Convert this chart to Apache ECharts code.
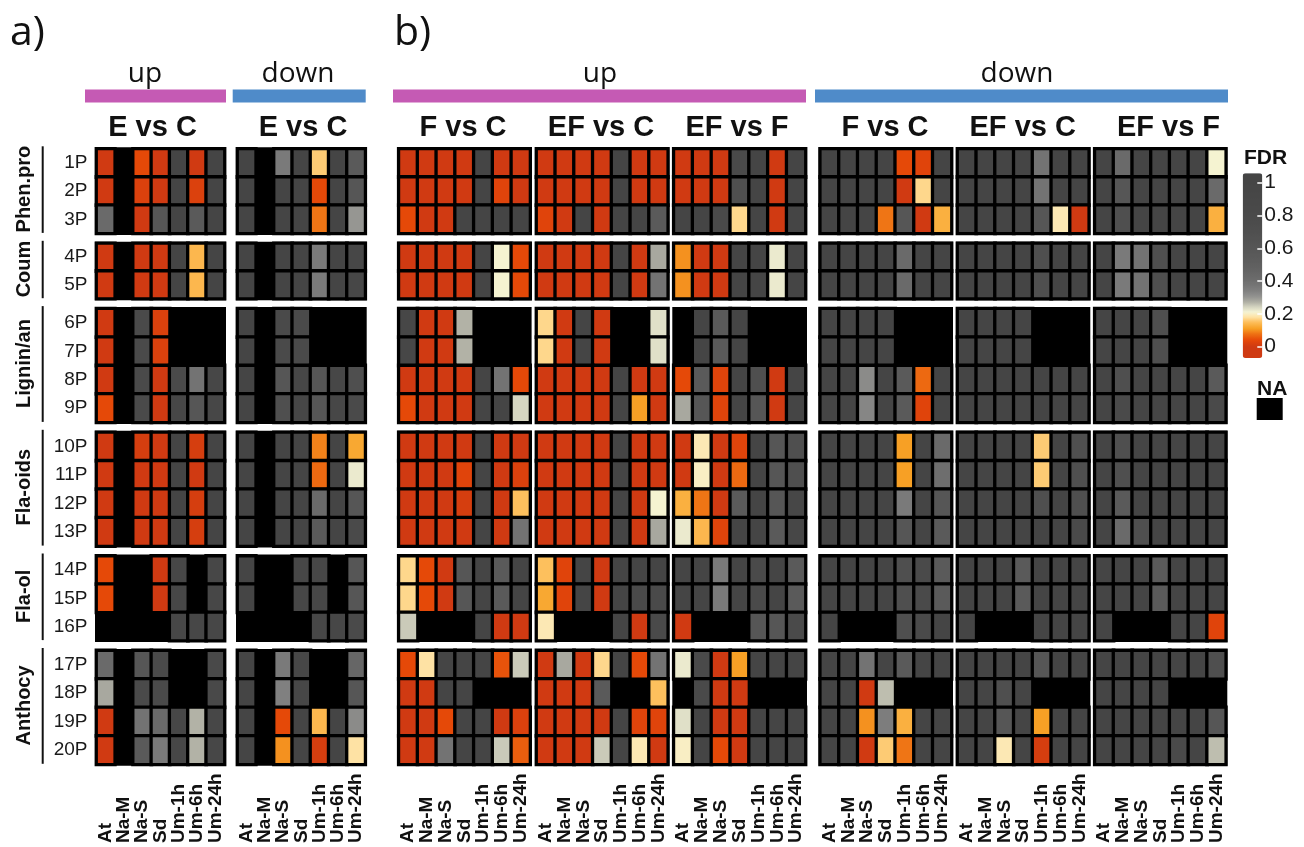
<!DOCTYPE html>
<html><head><meta charset="utf-8">
<script src="https://cdn.jsdelivr.net/npm/echarts@6/dist/echarts.min.js"></script>
<style>html,body{margin:0;padding:0;background:#fff}#c{width:1304px;height:847px}</style>
</head><body><div id="c"></div>
<script>
// ---------------- DATA ----------------
const columns = ['At','Na-M','Na-S','Sd','Um-1h','Um-6h','Um-24h'];
const rowNames = ['1P','2P','3P','4P','5P','6P','7P','8P','9P','10P','11P','12P','13P','14P','15P','16P','17P','18P','19P','20P'];
const groups = ['Phen.pro','Coum','Lignin/an','Fla-oids','Fla-ol','Anthocy'];
const groupSizes = [3,2,4,4,3,4];
const panelTitles = ['E vs C','E vs C','F vs C','EF vs C','EF vs F','F vs C','EF vs C','EF vs F'];
const headerLabels = ['up','down','up','down'];
const legendTicks = [0,0.2,0.4,0.6,0.8,1];
const N = null; // NA

const aUpEvsC = [
[0,N,0.04,0,1,0,1],
[0,N,0.02,0,1,0.02,1],
[0.42,N,0,0.6,1,0.55,1],
[0,N,0,0,1,0.14,1],
[0,N,0,0,1,0.14,1],
[0,N,0.8,0.02,N,N,N],
[0,N,0.8,0.02,N,N,N],
[0,N,0.8,0,0.8,0.38,0.9],
[0.04,N,0.8,0,0.9,0.6,0.9],
[0,N,0.01,0,1,0.01,1],
[0,N,0,0,1,0,1],
[0,N,0,0,1,0.01,1],
[0,N,0,0,1,0.01,1],
[0.04,N,N,0,0.9,N,0.9],
[0.04,N,N,0,0.9,N,0.9],
[N,N,N,N,0.9,0.9,0.9],
[0.42,N,0.6,0.8,N,N,0.85],
[0.28,N,0.8,0.8,N,N,0.85],
[0,N,0.38,0.42,0.9,0.27,0.9],
[0,N,0.55,0.36,0.9,0.27,0.9]
];
const aDownEvsC = [
[1,N,0.36,1,0.16,1,0.55],
[1,N,1,1,0.04,1,0.6],
[1,N,1,1,0.08,1,0.3],
[1,N,1,1,0.36,1,0.9],
[1,N,1,1,0.36,1,0.9],
[1,N,0.8,0.8,N,N,N],
[1,N,0.8,0.8,N,N,N],
[1,N,0.6,0.9,0.6,0.9,0.7],
[1,N,0.7,0.9,0.6,0.9,0.8],
[1,N,1,1,0.09,1,0.12],
[1,N,1,1,0.07,1,0.22],
[1,N,1,1,0.42,1,0.6],
[1,N,1,1,0.55,1,0.8],
[1,N,N,0.9,0.9,N,0.6],
[1,N,N,0.9,0.9,N,0.6],
[N,N,N,N,0.9,0.9,0.8],
[1,N,0.36,0.9,N,N,0.45],
[1,N,0.34,0.9,N,N,0.6],
[1,N,0.04,1,0.14,1,0.32],
[1,N,0.1,1,0.01,1,0.18]
];
const bUpFvsC = [
[0,0,0,0,1,0,0],
[0,0,0,0,1,0.03,0],
[0.04,0,0,1,1,1,1],
[0,0,0,0,1,0.21,0.04],
[0,0,0,0,1,0.21,0.04],
[0.9,0,0,0.27,N,N,N],
[0.9,0,0,0.27,N,N,N],
[0,0,0,0,1,0.38,0.04],
[0.04,0,0,0,1,1,0.24],
[0,0,0,0,1,0,0],
[0,0,0,0.03,1,0,0.02],
[0,0,0,0.01,1,0,0.15],
[0,0,0,0,1,0,0.38],
[0.17,0.04,0,0.6,1,0.55,1],
[0.17,0.04,0,0.6,1,0.55,1],
[0.25,N,N,N,1,0,0],
[0.04,0.18,1,1,1,0.05,0.25],
[0,0,1,1,N,N,N],
[0,0,0.04,1,1,0,0.02],
[0,0,0.38,1,1,0.25,0.06]
];
const bUpEFvsC = [
[0,0,0,0,1,0,0],
[0,0,0,0,1,0,0],
[0.03,0,1,0,1,1,0.55],
[0,0,0,0,1,0,0.28],
[0,0,0,0,1,0,0.38],
[0.17,0,1,0,N,N,0.23],
[0.17,0,1,0,N,N,0.23],
[0,0,0,0,1,0,0],
[0,0,0,0,1,0.11,0],
[0,0,0,0,1,0,0],
[0,0,0,0,1,0,0],
[0,0,0,0,1,0,0.21],
[0,0,0,0,1,0,0.28],
[0.15,0.03,1,0,1,1,1],
[0.12,0.03,1,0,1,0.8,0.8],
[0.19,N,N,N,1,0,0.8],
[0,0.28,0,0.17,1,0.04,0.38],
[0,0,0,0.55,N,N,0.15],
[0,0,0,0,1,0.03,0.03],
[0,0,0,0.25,1,0.19,0]
];
const bUpEFvsF = [
[0,0,0,0.8,1,0,1],
[0,0,0,0.7,1,0,1],
[1,1,0.8,0.17,1,0,1],
[0.1,0,0,1,1,0.22,1],
[0.1,0,0,1,1,0.22,1],
[N,1,0.55,1,N,N,N],
[N,1,0.55,1,N,N,N],
[0.04,0.55,0.03,1,0.7,0,1],
[0.28,0.6,0.03,1,0.6,0,1],
[0,0.19,0,0.03,1,0.6,0.7],
[0,0.2,0,0.07,1,0.6,0.7],
[0.13,0.08,0,0.55,1,0.6,0.9],
[0.22,0.14,0.03,1,1,0.55,0.9],
[1,1,0.36,1,0.8,1,0.55],
[1,1,0.36,1,0.8,1,0.55],
[0,N,N,N,0.6,0.6,0.8],
[0.22,0.8,0,0.11,1,1,1],
[N,0.8,0,0,N,N,N],
[0.23,1,0,0,1,1,1],
[0.2,1,0.04,0,1,1,1]
];
const bDownFvsC = [
[1,1,1,1,0.04,0.03,1],
[1,1,1,1,0,0.17,1],
[1,1,1,0.08,0.6,0,0.13],
[1,1,1,1,0.42,1,1],
[1,1,1,1,0.42,1,1],
[1,1,1,1,N,N,N],
[1,1,1,1,N,N,N],
[1,1,0.32,1,0.55,0.07,1],
[1,1,0.33,1,0.55,0.03,1],
[1,1,1,1,0.11,1,0.42],
[1,1,1,1,0.11,1,0.4],
[1,1,1,1,0.36,1,0.6],
[1,1,1,1,0.6,1,0.55],
[1,1,1,1,0.7,0.8,0.55],
[1,1,1,1,0.7,0.8,0.55],
[1,N,N,N,0.7,0.8,1],
[1,1,0.38,1,0.55,1,1],
[1,1,0,0.26,N,N,N],
[1,1,0.1,0.35,0.13,1,1],
[1,1,0,0.16,0.08,1,1]
];
const bDownEFvsC = [
[1,1,1,1,0.38,1,1],
[1,1,1,1,0.38,1,1],
[1,1,1,1,0.6,0.19,0],
[1,1,1,1,0.7,1,1],
[1,1,1,1,0.7,1,1],
[1,1,1,1,N,N,N],
[1,1,1,1,N,N,N],
[1,1,1,1,1,1,1],
[1,1,1,1,1,1,1],
[1,1,1,1,0.16,1,0.7],
[1,1,1,1,0.16,1,0.7],
[1,1,1,1,0.7,1,0.7],
[1,1,1,1,1,1,0.8],
[1,1,1,0.55,1,1,1],
[1,1,1,0.55,1,1,1],
[1,N,N,N,1,1,1],
[1,1,1,1,0.6,1,1],
[1,1,0.7,1,N,N,N],
[1,1,0.6,1,0.11,1,1],
[1,1,0.19,1,0.01,1,1]
];
const bDownEFvsF = [
[1,0.42,1,1,1,1,0.21],
[1,0.6,1,1,1,1,0.42],
[1,0.7,1,1,1,1,0.13],
[1,0.36,0.38,0.7,1,1,1],
[1,0.36,0.38,0.7,1,1,1],
[1,1,1,0.7,N,N,N],
[1,1,1,0.7,N,N,N],
[1,0.7,1,1,1,1,0.55],
[1,0.8,1,1,1,1,0.8],
[1,0.7,1,1,1,1,1],
[1,0.7,1,1,1,1,1],
[1,0.55,1,1,1,1,1],
[1,0.42,0.7,1,1,1,1],
[1,1,1,0.55,1,1,1],
[1,1,1,0.55,1,1,1],
[1,N,N,N,1,1,0.03],
[1,1,1,1,1,1,0.7],
[1,1,1,1,N,N,N],
[1,1,1,1,1,1,0.6],
[1,1,1,1,0.8,1,0.26]
];
const panels = [aUpEvsC, aDownEvsC, bUpFvsC, bUpEFvsC, bUpEFvsF, bDownFvsC, bDownEFvsC, bDownEFvsF];

// colour scale stops [FDR, colour]
const colorStops = [
[0.00,'#cf3a12'],[0.04,'#e64808'],[0.08,'#ef7414'],[0.11,'#f7a024'],[0.15,'#fdbf5c'],
[0.18,'#fee2a4'],[0.21,'#f6f4d4'],[0.24,'#d6d6c2'],[0.27,'#b2b2a6'],[0.30,'#969692'],
[0.34,'#808080'],[0.38,'#737373'],[0.42,'#6a6a6a'],[0.50,'#5f5f5f'],[0.60,'#565656'],
[0.70,'#4f4f4f'],[0.80,'#4a4a4a'],[1.00,'#454545']
];

// ---------------- LAYOUT ----------------
const FONT = "'Liberation Sans', Arial, sans-serif";
const FONT2 = "'Open Sans', sans-serif";
const outerLeft = [95, 236, 397.3, 535, 672.3, 818.7, 956, 1093.3];
const outerWidth = [131, 130.7, 134.3, 134.3, 134.7, 134.3, 134.3, 134];
const titleCenters = [152.5, 303, 463, 601, 737, 885, 1022.7, 1168.5];
const TOP0 = 147.3, ROWH = 29.2, GAP = 6.9, BW = 3;
const LABEL_BASE = 843;

function hexRgb(h){return [1,3,5].map(i=>parseInt(h.slice(i,i+2),16));}
function colorAt(v){
  if (v <= colorStops[0][0]) return colorStops[0][1];
  for (let i=1;i<colorStops.length;i++){
    if (v <= colorStops[i][0]){
      const [a,ca]=colorStops[i-1],[b,cb]=colorStops[i];
      const t=(v-a)/(b-a), A=hexRgb(ca), B=hexRgb(cb);
      return 'rgb('+A.map((x,k)=>Math.round(x+(B[k]-x)*t)).join(',')+')';
    }
  }
  return colorStops[colorStops.length-1][1];
}
const vmMin = -0.069, vmMax = 1.057;
const ramp = [];
for (let i=0;i<=240;i++) ramp.push(colorAt(vmMin+(vmMax-vmMin)*i/240));

const grids=[], xAxes=[], yAxes=[], series=[], graphics=[];
const groupTops=[];
{
  let t=TOP0;
  groupSizes.forEach(n=>{groupTops.push(t); t+=n*ROWH+GAP;});
}

panels.forEach((pd,p)=>{
  let rowStart=0;
  groups.forEach((g,gi)=>{
    const n=groupSizes[gi], top=groupTops[gi], h=n*ROWH;
    const idx=grids.length;
    grids.push({left:outerLeft[p]+BW/2, top:top+BW/2, width:outerWidth[p]-BW, height:h-BW,
      show:true, backgroundColor:'#000', borderColor:'#000', borderWidth:BW});
    const isLast = gi===groups.length-1;
    xAxes.push({type:'category', gridIndex:idx, data:columns, axisLine:{show:false}, axisTick:{show:false},
      splitLine:{show:false},
      axisLabel: isLast ? {show:true, interval:0, rotate:90, align:'left', verticalAlign:'middle',
        margin: LABEL_BASE-(top+h-BW/2), fontSize:19, fontWeight:'bold', color:'#111', fontFamily:FONT}
        : {show:false}});
    yAxes.push({type:'category', gridIndex:idx, inverse:true, data:rowNames.slice(rowStart,rowStart+n),
      axisLine:{show:false}, axisTick:{show:false}, splitLine:{show:false},
      axisLabel: p===0 ? {show:true, margin:9, fontSize:19, color:'#1a1a1a', fontFamily:FONT} : {show:false}});
    const data=[];
    for (let r=0;r<n;r++) for (let c=0;c<columns.length;c++){
      const v=pd[rowStart+r][c];
      if (v!==null) data.push([c,r,v]);
    }
    series.push({type:'heatmap', xAxisIndex:idx, yAxisIndex:idx, data, silent:true,
      itemStyle:{borderColor:'#000', borderWidth:3.3}, emphasis:{disabled:true}});
    rowStart+=n;
  });
});

// legend tick axis grid
const lgIdx = grids.length;
grids.push({left:1242.7, top:182.7, width:19.6, height:164, show:false});
xAxes.push({type:'category', gridIndex:lgIdx, data:['FDR'], show:false});
yAxes.push({type:'value', gridIndex:lgIdx, min:legendTicks[0], max:legendTicks[legendTicks.length-1],
  interval:0.2, position:'right', z:10,
  axisLine:{show:false}, splitLine:{show:false},
  axisTick:{show:true, inside:true, length:5, lineStyle:{color:'#fff', width:1.5}},
  axisLabel:{show:true, margin:2, fontSize:21, color:'#1a1a1a', fontFamily:FONT}});

// panel letters
graphics.push({type:'text', x:10, y:33, style:{text:'a)', font:'41px '+FONT2, fill:'#111', verticalAlign:'middle'}});
graphics.push({type:'text', x:394, y:33, style:{text:'b)', font:'41px '+FONT2, fill:'#111', verticalAlign:'middle'}});
// header bars
const bars=[[85,141,'#c55ab4',145],[232.7,133,'#4f8bc9',298],[393,413,'#c55ab4',600],[815,413,'#4f8bc9',1017]];
bars.forEach((b,i)=>{
  graphics.push({type:'rect', shape:{x:b[0], y:89.5, width:b[1], height:13}, style:{fill:b[2]}});
  graphics.push({type:'text', x:b[3], y:74, style:{text:headerLabels[i], font:'28px '+FONT2, fill:'#111', align:'center', verticalAlign:'middle'}});
});
// panel titles
panelTitles.forEach((t,i)=>{
  graphics.push({type:'text', x:titleCenters[i], y:128, style:{text:t, font:'bold 29px '+FONT, fill:'#111', align:'center', verticalAlign:'middle'}});
});
// group labels and lines
groups.forEach((g,gi)=>{
  const top=groupTops[gi], h=groupSizes[gi]*ROWH;
  graphics.push({type:'line', shape:{x1:42.7, y1:top-1, x2:42.7, y2:top+h-2}, style:{stroke:'#111', lineWidth:2}});
  graphics.push({type:'text', x:24, y:top+h/2-2, rotation:Math.PI/2,
    style:{text:g, font:'bold 20px '+FONT, fill:'#111', align:'center', verticalAlign:'middle'}});
});
// legend texts
graphics.push({type:'text', x:1244, y:158.5, style:{text:'FDR', font:'bold 21px '+FONT, fill:'#111', verticalAlign:'middle'}});
graphics.push({type:'text', x:1257, y:389, style:{text:'NA', font:'bold 21px '+FONT, fill:'#111', verticalAlign:'middle'}});
graphics.push({type:'rect', shape:{x:1256.7, y:398, width:26, height:22}, style:{fill:'#000'}});

const chart = echarts.init(document.getElementById('c'), null, {renderer:'canvas'});
chart.setOption({
  animation:false,
  backgroundColor:'#fff',
  grid:grids, xAxis:xAxes, yAxis:yAxes, series,
  visualMap:{type:'continuous', min:vmMin, max:vmMax, calculable:false, realtime:false, hoverLink:false,
    left:1242.7, top:173.3, itemWidth:19.6, itemHeight:184.7, padding:0,
    seriesIndex: series.map((s,i)=>i), inRange:{color:ramp}},
  graphic:{elements:graphics}
});
</script></body></html>
